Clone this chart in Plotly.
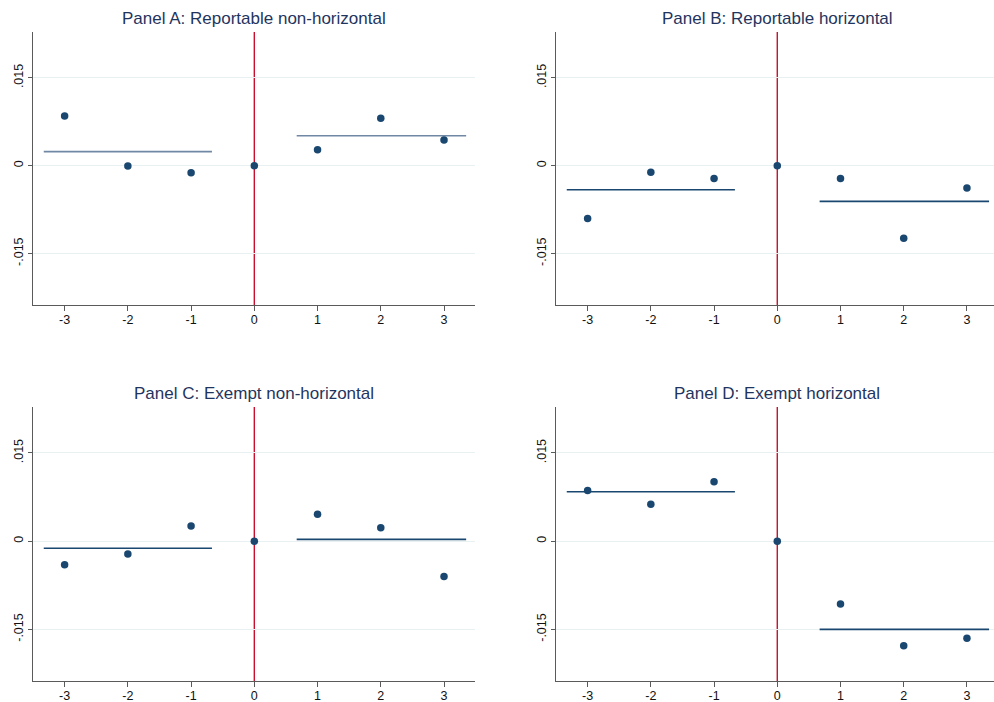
import plotly.graph_objects as go

# Event time relative to the event (0)
event_time = [-3, -2, -1, 0, 1, 2, 3]

# Estimated coefficients for each panel
coef_a = [0.0085, -0.00005, -0.0012, 0.0, 0.0027, 0.0081, 0.0044]
coef_b = [-0.0090, -0.0011, -0.0022, 0.0, -0.0022, -0.0124, -0.0038]
coef_c = [-0.0040, -0.0022, 0.0026, 0.0, 0.0046, 0.0023, -0.0060]
coef_d = [0.0086, 0.0063, 0.0101, 0.0, -0.0107, -0.0178, -0.0165]

# Average effect before and after the event
pre_mean = [0.0024, -0.0041, -0.0012, 0.0084]
post_mean = [0.0051, -0.0061, 0.0003, -0.0150]

panel_titles = [
    "Panel A: Reportable non-horizontal",
    "Panel B: Reportable horizontal",
    "Panel C: Exempt non-horizontal",
    "Panel D: Exempt horizontal",
]

y_tick_vals = [-0.015, 0, 0.015]
y_tick_text = ["-.015", "0", ".015"]
x_tick_vals = [-3, -2, -1, 0, 1, 2, 3]
x_tick_text = ["-3", "-2", "-1", "0", "1", "2", "3"]

W, H = 994, 702
NAVY = "#1a476f"
RED = "#c8102e"
AXIS = "#5a5a5a"
GRID = "#e8f0f1"
FONT = "Liberation Sans, Arial, sans-serif"

# Plot-area geometry (pixels) for each panel: left, right, top, bottom
boxes = [
    (33, 475, 32, 305),
    (556, 994, 32, 305),
    (33, 475, 407, 681),
    (556, 994, 407, 681),
]
x_ranges = [[-3.5, 3.49], [-3.5, 3.428], [-3.5, 3.49], [-3.5, 3.428]]
y_range = [-0.02378, 0.02282]

series = [coef_a, coef_b, coef_c, coef_d]
segment_colors = ["#7088a3", NAVY, NAVY, NAVY]
pre_span = (-3.33, -0.67)
post_span = (0.67, 3.35)

fig = go.Figure()

for i, (ys, title) in enumerate(zip(series, panel_titles)):
    n = "" if i == 0 else str(i + 1)
    xa, ya = "x" + n, "y" + n
    left, right, top, bottom = boxes[i]

    fig.update_layout({
        "xaxis" + n: dict(
            domain=[left / W, right / W], range=x_ranges[i], anchor=ya,
            tickvals=x_tick_vals, ticktext=x_tick_text,
            showgrid=False, zeroline=False,
            showline=True, linecolor=AXIS, linewidth=1.3,
            ticks="outside", ticklen=5, tickcolor=AXIS, tickwidth=1.2,
            ticklabelstandoff=-2,
            tickfont=dict(family=FONT, size=12.5, color="#111111"),
        ),
        "yaxis" + n: dict(
            domain=[1 - bottom / H, 1 - top / H], range=y_range, anchor=xa,
            tickvals=y_tick_vals, ticktext=y_tick_text, tickangle=-90,
            showgrid=True, gridcolor=GRID, gridwidth=1, zeroline=False,
            showline=True, linecolor=AXIS, linewidth=1.3,
            ticks="outside", ticklen=4, tickcolor=AXIS, tickwidth=1.2,
            tickfont=dict(family=FONT, size=12.5, color="#111111"),
        ),
    })

    # Event line at t = 0
    fig.add_shape(type="line", xref=xa, yref=ya + " domain",
                  x0=0, x1=0, y0=0, y1=1, layer="below",
                  line=dict(color=RED, width=1.4))

    # Pre- and post-event averages
    fig.add_trace(go.Scatter(x=list(pre_span), y=[pre_mean[i]] * 2, xaxis=xa, yaxis=ya,
                             mode="lines", line=dict(color=segment_colors[i], width=1.6),
                             showlegend=False, hoverinfo="skip"))
    fig.add_trace(go.Scatter(x=list(post_span), y=[post_mean[i]] * 2, xaxis=xa, yaxis=ya,
                             mode="lines", line=dict(color=segment_colors[i], width=1.6),
                             showlegend=False, hoverinfo="skip"))

    # Point estimates
    fig.add_trace(go.Scatter(x=event_time, y=ys, xaxis=xa, yaxis=ya, mode="markers",
                             marker=dict(color=NAVY, size=7.5), showlegend=False))

    fig.add_annotation(text=title, xref=xa, x=0, yref="paper", y=1 - (top - 14) / H,
                       xanchor="center", yanchor="middle", showarrow=False,
                       font=dict(family=FONT, size=17, color="#1f3560"))

fig.update_layout(
    width=W, height=H,
    margin=dict(l=0, r=0, t=0, b=0),
    paper_bgcolor="white", plot_bgcolor="white",
    showlegend=False,
)

fig.write_html("out.html")
